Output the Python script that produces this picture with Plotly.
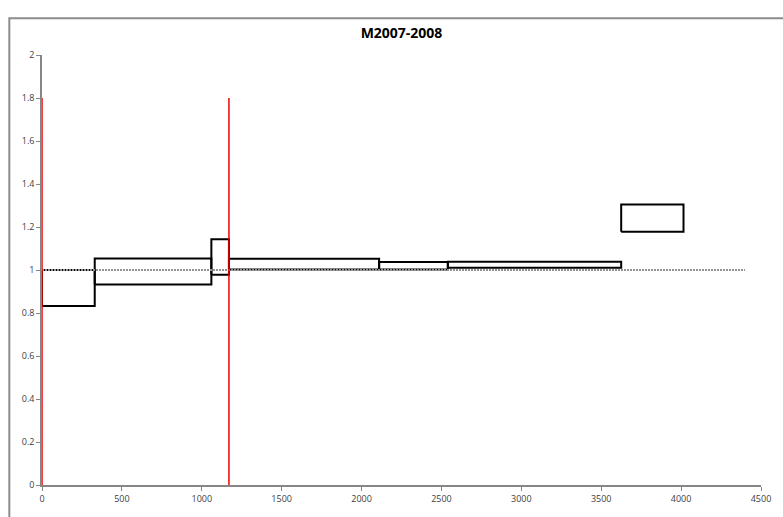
import plotly.graph_objects as go

# Box data (range boxes)
x_start = [0, 330, 1060, 1170, 2110, 2540, 3625]
x_end = [330, 1060, 1170, 2110, 2540, 3625, 4015]
y_low = [0.833, 0.933, 0.978, 1.002, 1.002, 1.01, 1.178]
y_high = [1.0, 1.053, 1.143, 1.052, 1.037, 1.038, 1.305]

# Reference lines
ref_x = [0, 4400]
ref_y = [1, 1]
red_x = [0, 1170]
red_y_top = 1.8

x_ticks = [0, 500, 1000, 1500, 2000, 2500, 3000, 3500, 4000, 4500]
y_ticks = [0, 0.2, 0.4, 0.6, 0.8, 1, 1.2, 1.4, 1.6, 1.8, 2]

fig = go.Figure()

for xs, xe, yl, yh in zip(x_start, x_end, y_low, y_high):
    fig.add_trace(go.Scatter(x=[xs, xe, xe, xs, xs], y=[yl, yl, yh, yh, yl],
                             mode="lines", line=dict(color="black", width=2),
                             showlegend=False, hoverinfo="skip"))

fig.add_trace(go.Scatter(x=ref_x, y=ref_y, mode="lines",
                         line=dict(color="#949494", width=2, dash="2px,1px"),
                         showlegend=False, hoverinfo="skip"))

for rx in red_x:
    fig.add_trace(go.Scatter(x=[rx, rx], y=[0, red_y_top], mode="lines",
                             line=dict(color="#ee0000", width=1.5),
                             showlegend=False, hoverinfo="skip"))

# chart border
fig.add_shape(type="rect", xref="paper", yref="paper",
              x0=-33/726, x1=1.1, y0=-0.2, y1=(488-18)/433,
              line=dict(color="#8c8c8c", width=2), fillcolor="rgba(0,0,0,0)", layer="below")

fig.update_layout(
    width=783, height=517,
    margin=dict(l=42, r=15, t=55, b=29),
    paper_bgcolor="white", plot_bgcolor="white",
    title=dict(text="<b>M2007-2008</b>", x=0.5, xref="paper", xanchor="center",
               y=1 - 33/517, yanchor="middle",
               font=dict(family="Open Sans", size=14, color="black")),
    font=dict(family="Open Sans", size=9, color="#404040"),
    xaxis=dict(range=[0, 4500], tickvals=x_ticks, showgrid=False, zeroline=False,
               showline=True, linecolor="#868686", linewidth=1.5,
               ticks="outside", ticklen=4, tickcolor="#868686"),
    yaxis=dict(range=[0, 2], tickvals=y_ticks, showgrid=False, zeroline=False,
               showline=True, linecolor="#868686", linewidth=1.5,
               ticks="outside", ticklen=4, tickcolor="#868686"),
)

fig.write_html("out.html")
